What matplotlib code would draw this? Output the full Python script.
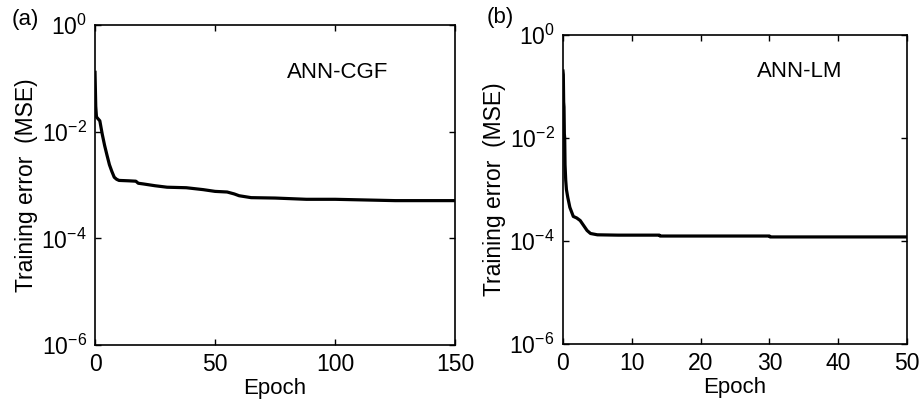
import matplotlib
matplotlib.use("Agg")
import matplotlib.pyplot as plt
from matplotlib.ticker import NullLocator

plt.rcParams["font.family"] = ["Liberation Sans", "DejaVu Sans"]
plt.rcParams["mathtext.default"] = "regular"

# (a) ANN-CGF training curve
cgf_epoch = [0, 0.3, 0.6, 1, 2, 3, 4, 5, 6, 7, 8, 9, 10, 14, 17, 18, 20, 25,
             30, 38, 45, 50, 55, 58, 60, 65, 75, 88, 100, 125, 150]
cgf_mse = [0.13, 0.03, 0.019, 0.018, 0.016, 0.009, 0.0055, 0.0036, 0.0024,
           0.0018, 0.0014, 0.00128, 0.00122, 0.0012, 0.00118, 0.00108,
           0.00105, 0.00097, 0.00091, 0.00089, 0.00082, 0.00076, 0.00074,
           0.00068, 0.00063, 0.00058, 0.00057, 0.00054, 0.00054, 0.00051,
           0.00051]

# (b) ANN-LM training curve
lm_epoch = [0, 0.05, 0.1, 0.15, 0.2, 0.25, 0.3, 0.4, 0.5, 0.7, 1.0, 1.5, 2.0,
            2.5, 3.0, 3.5, 4.0, 5.0, 8.0, 14.0, 14.1, 30.0, 30.1, 50.0]
lm_mse = [0.2, 0.17, 0.05, 0.04, 0.012, 0.01, 0.003, 0.0015, 0.001, 0.0007,
          0.00045, 0.0003, 0.00028, 0.00025, 0.0002, 0.00016, 0.00014,
          0.000132, 0.00013, 0.00013, 0.000125, 0.000125, 0.00012, 0.00012]

panels = [
    ("(a)", "ANN-CGF", cgf_epoch, cgf_mse, [0, 50, 100, 150], 150,
     [0.1034, 0.146, 0.392, 0.792], (80, 0.13), (12, 20)),
    ("(b)", "ANN-LM", lm_epoch, lm_mse, [0, 10, 20, 30, 40, 50], 50,
     [0.6126, 0.1485, 0.3744, 0.7648], (28.2, 0.2), (487, 17)),
]

fig = plt.figure(figsize=(9.19, 4.04), dpi=100)
for tag, name, x, y, xt, xmax, pos, txt, tagpx in panels:
    ax = fig.add_axes(pos)
    ax.plot(x, y, color="black", lw=2.3)
    ax.set_yscale("log")
    ax.set_xlim(0, xmax)
    ax.set_ylim(1e-6, 1)
    ax.set_xticks(xt)
    ax.set_yticks([1e-6, 1e-4, 1e-2, 1])
    ax.yaxis.set_minor_locator(NullLocator())
    ax.tick_params(direction="in", top=True, right=True, length=4, width=1,
                   labelsize=16.5, pad=6)
    for s in ax.spines.values():
        s.set_linewidth(1.2)
    ax.set_xlabel("Epoch", fontsize=16, labelpad=1)
    ax.set_ylabel("Training error  (MSE)", fontsize=16.5, labelpad=2)
    ax.text(txt[0], txt[1], name, fontsize=16, va="center", ha="left")
    fig.text(tagpx[0] / 919, 1 - tagpx[1] / 404, tag, fontsize=16,
             ha="left", va="center")

fig.savefig("out.png", dpi=100)
